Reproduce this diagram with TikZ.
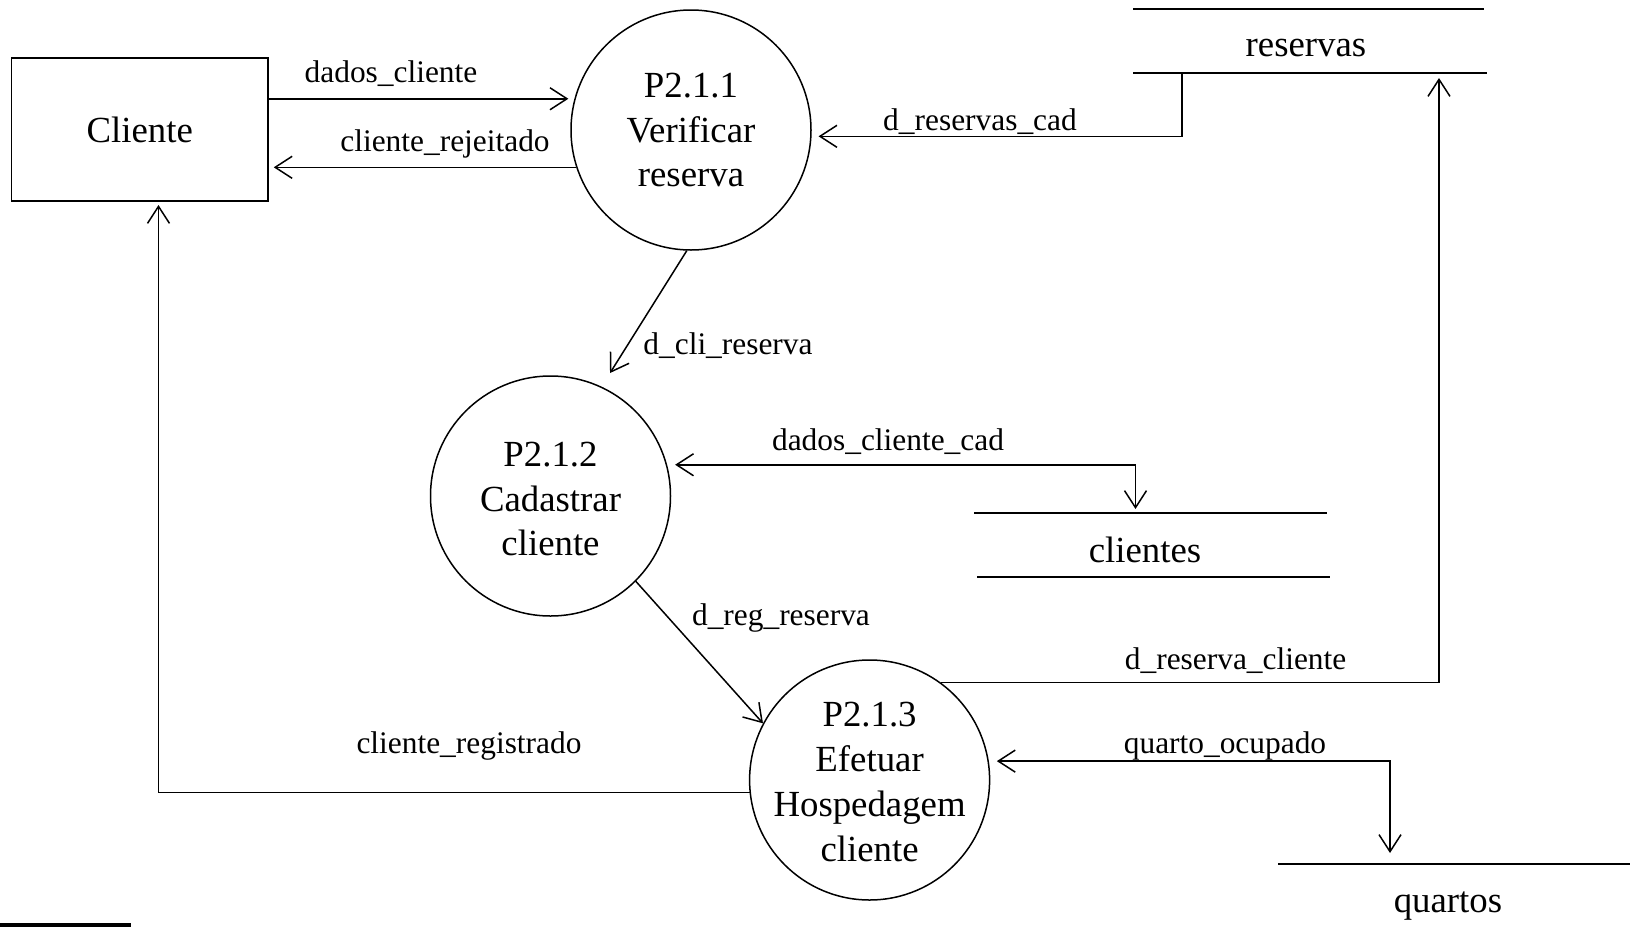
\documentclass[tikz,border=0pt]{standalone}
\usepackage{fontspec}
\setmainfont{Liberation Serif}
\usetikzlibrary{arrows.meta,calc}
\begin{document}
\begin{tikzpicture}[x=0.5pt,y=-0.5pt,
  big/.style={font=\fontsize{18.4}{22.4}\selectfont},
  lbl/.style={font=\fontsize{15.7}{19}\selectfont, inner sep=0pt},
  proc/.style={circle, draw, line width=0.75pt, minimum size=120pt, inner sep=-6pt, align=center, big},
  proctext/.style={align=center, big, inner sep=0pt},
  ext/.style={rectangle, draw, line width=0.75pt, minimum width=128.25pt, minimum height=71.5pt, big},
  storeline/.style={line width=1pt},
  flow/.style={line width=0.75pt, -{Straight Barb[length=8.5pt,width=11pt]}},
  flowboth/.style={line width=0.75pt, {Straight Barb[length=8.5pt,width=11pt]}-{Straight Barb[length=8.5pt,width=11pt]}}
]
\useasboundingbox (0,0) rectangle (1635,927);

% entities and processes
\node[ext] (cliente) at (139.75,129.5) {Cliente};
\node[proc] (p1) at (691,130) {P2.1.1\\Verificar\\reserva};
\node[proc] (p2) at (550.5,496) {};
\node[proctext] (p2t) at (550.5,499) {P2.1.2\\Cadastrar\\cliente};
\node[proc] (p3) at (869.6,780) {};
\node[proctext] (p3t) at (869.6,782) {P2.1.3\\Efetuar\\Hospedagem\\cliente};

% data stores
\draw[storeline] (1133,9.4) -- (1484,9.4);
\draw[storeline] (1133,73) -- (1487,73);
\node[big] (reservas) at (1306,48) {reservas};
\draw[storeline] (974,513) -- (1327,513);
\draw[storeline] (977,576.6) -- (1330,576.6);
\node[big] (clientes) at (1145,549.5) {clientes};
\draw[storeline] (1278,864) -- (1630,864);
\node[big] (quartos) at (1448,906) {quartos};

% stray line bottom-left
\draw[line width=2pt] (0,925) -- (131,925);

% connector end points
\coordinate (rsA) at (1182,73);
\coordinate (rsB) at (1439,78);
\coordinate (clA) at (1135.5,509);
\coordinate (qA) at (1390,853);
\coordinate (clB) at (158.5,205);

% flows
\draw[flow, shorten >=3pt] (cliente.east |- p1.165) -- (p1.165);
\draw[flow, shorten >=2.5pt] (p1.198) -- (cliente.east |- p1.198);
\draw[flow, shorten >=3.5pt] (rsA) |- (p1.-3);
\draw[flow, shorten >=8pt] (p1.268) -- (p2.65);
\draw[flowboth, shorten <=4pt] (p2.15) -| (clA);
\draw[flow] (p2.-45) -- (p3.152);
\draw[flow] (p3.54) -| (rsB);
\draw[flowboth, shorten <=4pt] (p3.9) -| (qA);
\draw[flow] (p3.186) -| (clB);

% labels
\node[lbl] (l1) at (391,73.5) {dados\_cliente};
\node[lbl] (l2) at (445,143.5) {cliente\_rejeitado};
\node[lbl] (l3) at (980,121.5) {d\_reservas\_cad};
\node[lbl] (l4) at (728,345.5) {d\_cli\_reserva};
\node[lbl] (l5) at (888,441.5) {dados\_cliente\_cad};
\node[lbl] (l6) at (781,617.5) {d\_reg\_reserva};
\node[lbl] (l7) at (1235.6,660.5) {d\_reserva\_cliente};
\node[lbl] (l8) at (1225,745.5) {quarto\_ocupado};
\node[lbl] (l9) at (469,745.5) {cliente\_registrado};
\end{tikzpicture}
\end{document}
